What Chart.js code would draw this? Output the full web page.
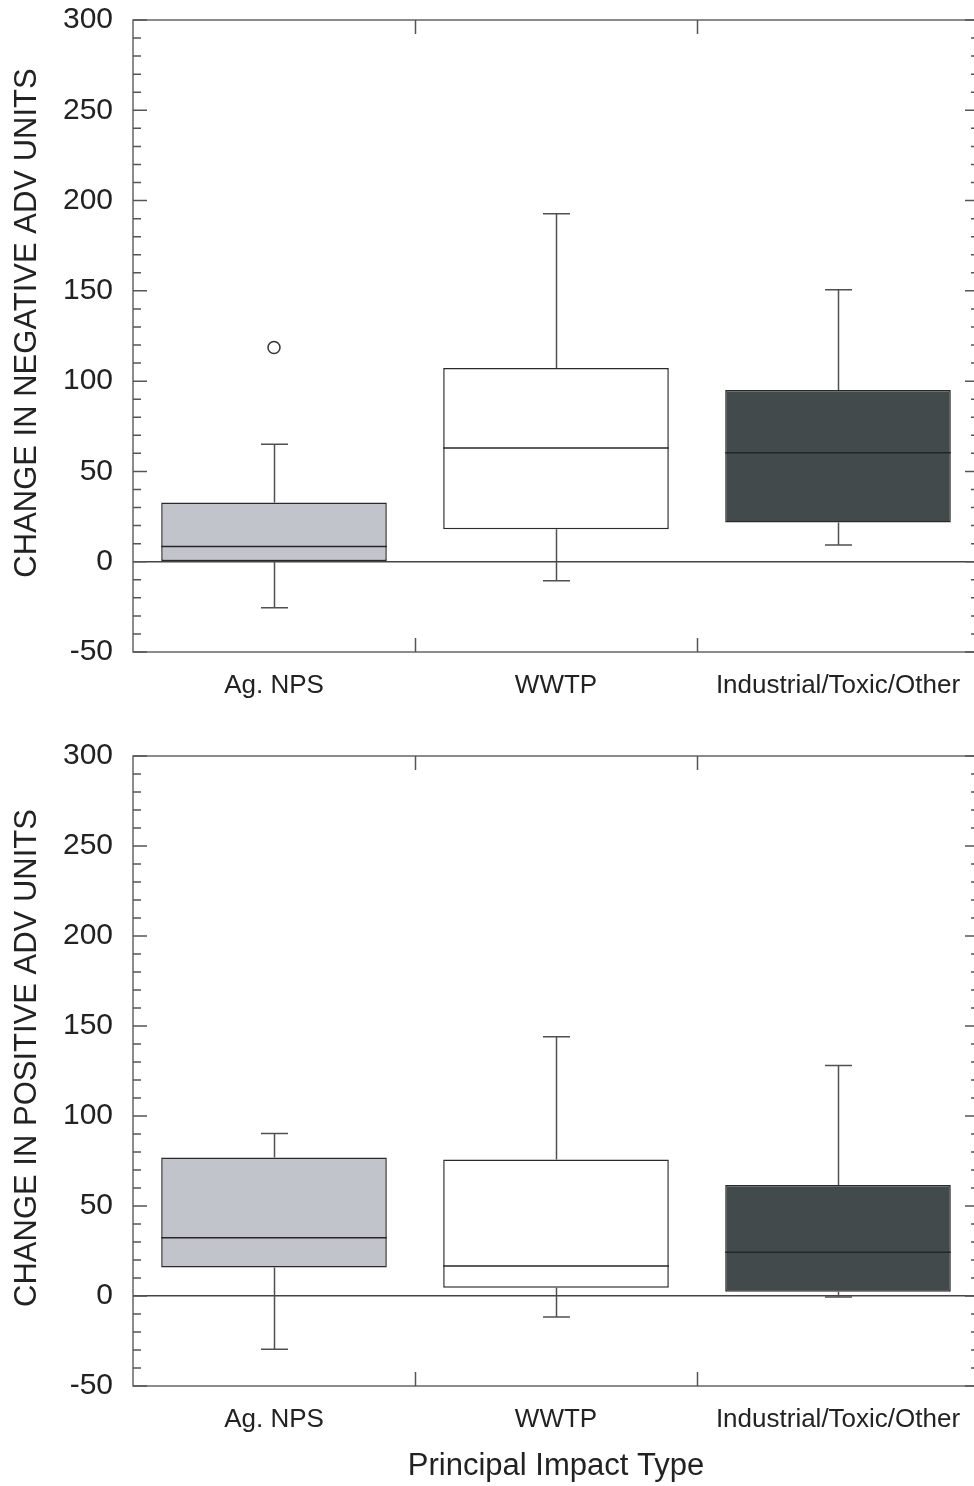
<!DOCTYPE html>
<html><head><meta charset="utf-8">
<script src="https://cdn.jsdelivr.net/npm/chart.js@4.4.1/dist/chart.umd.min.js"></script>
<style>
html,body{margin:0;padding:0;background:#fff;overflow:hidden;width:974px;height:1486px;}
#c1{position:absolute;left:0;top:0;}
#c2{position:absolute;left:0;top:736px;}
</style></head><body>
<canvas id="c1" width="980" height="720"></canvas>
<canvas id="c2" width="980" height="750"></canvas>
<script>
const categories = ['Ag. NPS', 'WWTP', 'Industrial/Toxic/Other'];
const yMin = -50, yMax = 300, yStep = 50, yMinorStep = 10;

// Top panel: change in negative ADV units
const negMin = [-25.5, -10.5, 9.2];
const negQ1 = [0, 18, 21.7];
const negMedian = [8.4, 63, 60.3];
const negQ3 = [32.8, 107.3, 95.1];
const negMax = [65, 192.7, 150.6];
const negOutliers = [118.6, null, null];

// Bottom panel: change in positive ADV units
const posMin = [-29.6, -11.7, -0.5];
const posQ1 = [15.8, 4.6, 2.4];
const posMedian = [32.3, 16.7, 24.3];
const posQ3 = [76.9, 75.8, 61.6];
const posMax = [90.3, 144, 128.1];
const posOutliers = [null, null, null];

const boxColors = ['#c1c4cb', '#ffffff', '#434a4c'];
const FONT = "'Liberation Sans', Arial, Helvetica, sans-serif";

function makePlugin(stats, yTitle) {
  return {
    id: 'boxExtras',
    beforeDatasetsDraw(chart) {
      const {ctx} = chart; const x = chart.scales.x, y = chart.scales.y;
      ctx.save();
      ctx.strokeStyle = '#505050'; ctx.lineWidth = 1.5;
      for (let i = 0; i < categories.length; i++) {
        const px = Math.round(x.getPixelForValue(i)) + 0.5;
        const yq3 = y.getPixelForValue(stats.q3[i]), yMx = y.getPixelForValue(stats.max[i]);
        const yq1 = y.getPixelForValue(stats.q1[i]), yMn = y.getPixelForValue(stats.min[i]);
        ctx.beginPath();
        ctx.moveTo(px, yq3); ctx.lineTo(px, yMx);
        ctx.moveTo(px - 13.5, yMx); ctx.lineTo(px + 13.5, yMx);
        ctx.moveTo(px, yq1); ctx.lineTo(px, yMn);
        ctx.moveTo(px - 13.5, yMn); ctx.lineTo(px + 13.5, yMn);
        ctx.stroke();
      }
      ctx.restore();
    },
    afterDatasetsDraw(chart) {
      const {ctx} = chart; const y = chart.scales.y;
      const meta = chart.getDatasetMeta(0);
      ctx.save();
      ctx.strokeStyle = '#262626'; ctx.lineWidth = 1.5;
      for (let i = 0; i < categories.length; i++) {
        const el = meta.data[i];
        const py = y.getPixelForValue(stats.median[i]);
        ctx.beginPath();
        ctx.moveTo(el.x - el.width / 2, py); ctx.lineTo(el.x + el.width / 2, py);
        ctx.stroke();
      }
      ctx.restore();
    },
    afterDraw(chart) {
      const {ctx, chartArea: a} = chart; const x = chart.scales.x, y = chart.scales.y;
      ctx.save();
      ctx.strokeStyle = '#666'; ctx.lineWidth = 1.5;
      ctx.strokeRect(a.left, a.top, a.right - a.left, a.bottom - a.top);
      ctx.strokeStyle = '#555'; ctx.lineWidth = 1.5;
      ctx.beginPath();
      for (let v = yMin; v <= yMax; v += yMinorStep) {
        const py = y.getPixelForValue(v);
        const len = (v % yStep === 0) ? 14 : 8;
        ctx.moveTo(a.left, py); ctx.lineTo(a.left + len, py);
        ctx.moveTo(a.right, py); ctx.lineTo(a.right - len, py);
      }
      for (let i = 0; i < categories.length - 1; i++) {
        const px = Math.round((x.getPixelForValue(i) + x.getPixelForValue(i + 1)) / 2) + 0.5;
        ctx.moveTo(px, a.bottom); ctx.lineTo(px, a.bottom - 14);
        ctx.moveTo(px, a.top); ctx.lineTo(px, a.top + 14);
      }
      ctx.stroke();
      // y-axis title, centred slightly above the plot middle as in the original
      ctx.fillStyle = '#222';
      ctx.font = '31px ' + FONT;
      ctx.textAlign = 'center';
      ctx.textBaseline = 'middle';
      ctx.translate(27, (a.top + a.bottom) / 2 - 13);
      ctx.rotate(-Math.PI / 2);
      ctx.fillText(yTitle, 0, 0);
      ctx.restore();
    }
  };
}

function zeroPad(s) { s.paddingTop = 0; s.paddingBottom = 0; s.paddingLeft = 0; s.paddingRight = 0; }

function makeChart(id, yTitle, stats, outliers, xHeight, showXTitle) {
  const boxes = categories.map((c, i) => [stats.q1[i], stats.q3[i]]);
  return new Chart(document.getElementById(id), {
    type: 'bar',
    data: {
      labels: categories,
      datasets: [{
        data: boxes,
        backgroundColor: boxColors,
        borderColor: '#2a2a2a',
        borderWidth: 1.5,
        borderSkipped: false,
        barPercentage: 0.8,
        categoryPercentage: 1.0
      }, {
        type: 'line',
        data: outliers,
        showLine: false,
        pointRadius: 6,
        pointBorderWidth: 1.5,
        pointBackgroundColor: '#fff',
        pointBorderColor: '#333'
      }]
    },
    options: {
      responsive: false,
      animation: false,
      devicePixelRatio: 1,
      layout: {autoPadding: false, padding: {top: 20, right: 1, left: 0, bottom: 0}},
      plugins: {legend: {display: false}, tooltip: {enabled: false}},
      scales: {
        x: {
          type: 'category',
          grid: {display: false, drawTicks: false},
          border: {display: false},
          ticks: {color: '#222', font: {family: FONT, size: 26}, padding: 18, maxRotation: 0, autoSkip: false},
          title: {display: showXTitle, text: 'Principal Impact Type', color: '#222', font: {family: FONT, size: 31}, padding: {top: 0, bottom: 1}},
          afterFit(s) { s.height = xHeight; zeroPad(s); }
        },
        y: {
          min: yMin, max: yMax,
          grid: {
            drawTicks: false,
            color: c => (c.tick && c.tick.value === 0) ? '#444' : 'rgba(0,0,0,0)',
            lineWidth: 1.5
          },
          border: {display: false},
          ticks: {stepSize: yStep, color: '#222', font: {family: FONT, size: 30}, padding: 20},
          title: {display: false, text: yTitle},
          afterFit(s) { s.width = 133; zeroPad(s); }
        }
      }
    },
    plugins: [makePlugin(stats, yTitle)]
  });
}

makeChart('c1', 'CHANGE IN NEGATIVE ADV UNITS',
  {min: negMin, q1: negQ1, median: negMedian, q3: negQ3, max: negMax}, negOutliers, 68, false);
makeChart('c2', 'CHANGE IN POSITIVE ADV UNITS',
  {min: posMin, q1: posQ1, median: posMedian, q3: posQ3, max: posMax}, posOutliers, 100, true);
</script>
</body></html>
